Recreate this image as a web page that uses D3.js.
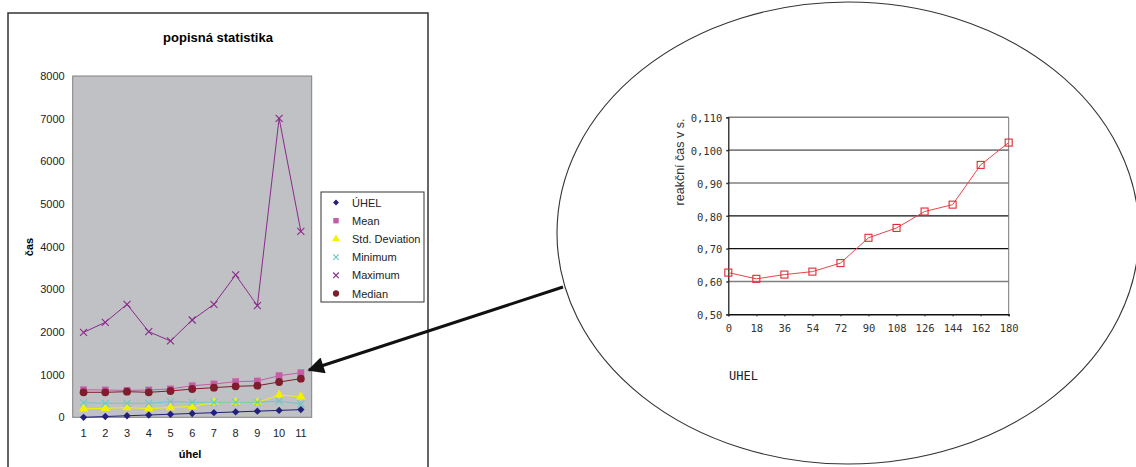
<!DOCTYPE html>
<html><head><meta charset="utf-8">
<script src="https://cdn.jsdelivr.net/npm/d3@7"></script>
<style>body{margin:0;background:#fff}svg{display:block}</style>
</head><body><svg id="c" width="1136" height="467"></svg>
<script>
// ---- left chart data ----
const categories = [1,2,3,4,5,6,7,8,9,10,11];
const uhel    = [0,18,36,54,72,90,108,126,144,162,180];
const mean    = [645,640,630,640,665,740,780,835,850,975,1045];
const stdDev  = [200,210,228,205,230,255,347,351,347,523,480];
const minimum = [343,328,328,328,367,351,351,351,351,382,312];
const maximum = [1990,2227,2649,2007,1789,2281,2649,3336,2616,7009,4360];
const median  = [586,586,601,586,617,663,695,726,741,828,905];
const leftYTicks = [0,1000,2000,3000,4000,5000,6000,7000,8000];
const seriesNames = ["ÚHEL","Mean","Std. Deviation","Minimum","Maximum","Median"];

// ---- right chart data ----
const angles = [0,18,36,54,72,90,108,126,144,162,180];
const reaction = [0.627,0.608,0.621,0.630,0.656,0.733,0.763,0.813,0.834,0.955,1.023];
const rightYTicks = [0.5,0.6,0.7,0.8,0.9,1.0,1.1];
const rightYTickLabels = ["0,50","0,60","0,70","0,80","0,90","0,100","0,110"];

const svg = d3.select("#c");

// ================= LEFT CHART =================
svg.append("rect").attr("x",8).attr("y",13).attr("width",420).attr("height",480)
  .attr("fill","#fff").attr("stroke","#333").attr("stroke-width",1.5);

svg.append("text").attr("x",218).attr("y",42).attr("text-anchor","middle")
  .attr("font-family","Liberation Sans, Arial").attr("font-weight","bold").attr("font-size",13)
  .text("popisná statistika");

const lx = d3.scaleBand().domain(categories).range([72.7,311.7]).padding(0);
const ly = d3.scaleLinear().domain([0,8000]).range([417.3,76]);

svg.append("rect").attr("x",72.7).attr("y",76).attr("width",239).attr("height",417.3-76)
  .attr("fill","#c0c1c5").attr("stroke","#808080").attr("stroke-width",1);

const lyAxis = svg.append("g").attr("transform","translate(72.7,0)")
  .call(d3.axisLeft(ly).tickValues(leftYTicks).tickSize(0).tickPadding(8).tickFormat(d3.format("d")));
lyAxis.select(".domain").remove();
lyAxis.selectAll("text").attr("font-family","Liberation Sans, Arial").attr("font-size",11).attr("fill","#222");

const lxAxis = svg.append("g").attr("transform","translate(0,417.3)")
  .call(d3.axisBottom(lx).tickSize(0).tickPadding(12));
lxAxis.select(".domain").remove();
lxAxis.selectAll("text").attr("font-family","Liberation Sans, Arial").attr("font-size",11).attr("fill","#222");

svg.append("text").attr("x",190).attr("y",458).attr("text-anchor","middle")
  .attr("font-family","Liberation Sans, Arial").attr("font-weight","bold").attr("font-size",11).text("úhel");
svg.append("text").attr("transform","translate(33,247) rotate(-90)").attr("text-anchor","middle")
  .attr("font-family","Liberation Sans, Arial").attr("font-weight","bold").attr("font-size",11).text("čas");

const series = [
  {name:seriesNames[0], vals:uhel,    color:"#23207a", marker:"diamond"},
  {name:seriesNames[1], vals:mean,    color:"#c45ea6", marker:"square"},
  {name:seriesNames[2], vals:stdDev,  color:"#f5f000", marker:"triangle"},
  {name:seriesNames[3], vals:minimum, color:"#6cc8c8", marker:"x"},
  {name:seriesNames[4], vals:maximum, color:"#8a2a8a", marker:"x"},
  {name:seriesNames[5], vals:median,  color:"#7e1e2c", marker:"circle"}
];
function drawMarker(g, type, x, y, color, s){
  if(type==="x"){
    g.append("path").attr("d",`M${x-s},${y-s}L${x+s},${y+s}M${x-s},${y+s}L${x+s},${y-s}`)
      .attr("stroke",color).attr("stroke-width",1.1).attr("fill","none");
  } else if(type==="diamond"){
    const d = s*1.05;
    g.append("path").attr("d",`M${x},${y-d}L${x+d},${y}L${x},${y+d}L${x-d},${y}Z`).attr("fill",color);
  } else {
    const sym = {square:d3.symbolSquare, triangle:d3.symbolTriangle, circle:d3.symbolCircle}[type];
    const size = {square:46, triangle:40, circle:48}[type]*(s/3.5)*(s/3.5);
    g.append("path").attr("d",d3.symbol().type(sym).size(size)()).attr("transform",`translate(${x},${y})`)
      .attr("fill",color);
  }
}
const line = d3.line();
series.forEach(s=>{
  const pts = s.vals.map((v,i)=>[lx(categories[i])+lx.bandwidth()/2, ly(v)]);
  svg.append("path").attr("d",line(pts)).attr("fill","none").attr("stroke",s.color).attr("stroke-width",1);
  const g = svg.append("g");
  pts.forEach(p=>drawMarker(g,s.marker,p[0],p[1],s.color,3.5));
});

// legend
svg.append("rect").attr("x",321).attr("y",192).attr("width",103).attr("height",110)
  .attr("fill","#fff").attr("stroke","#333").attr("stroke-width",1);
series.forEach((s,i)=>{
  const y = 202.5 + i*18.2;
  drawMarker(svg.append("g"), s.marker, 336, y, s.color, 2.8);
  svg.append("text").attr("x",352).attr("y",y+4).attr("font-family","Liberation Sans, Arial")
    .attr("font-size",11).attr("fill","#222").text(s.name);
});

// ================= ELLIPSE + ARROW =================
svg.append("ellipse").attr("cx",848).attr("cy",233).attr("rx",291).attr("ry",231)
  .attr("fill","none").attr("stroke","#333").attr("stroke-width",1.1);

const defs = svg.append("defs");
defs.append("marker").attr("id","ah").attr("viewBox","0 0 10 10").attr("refX",9).attr("refY",5)
  .attr("markerWidth",7).attr("markerHeight",5.5).attr("markerUnits","strokeWidth").attr("orient","auto")
  .append("path").attr("d","M0,0L10,5L0,10Z").attr("fill","#111");
svg.append("line").attr("x1",563).attr("y1",287).attr("x2",309).attr("y2",370)
  .attr("stroke","#111").attr("stroke-width",3).attr("marker-end","url(#ah)");

// ================= RIGHT CHART =================
const rx = d3.scaleLinear().domain([0,180]).range([728.3,1008.7]);
const ry = d3.scaleLinear().domain([0.5,1.1]).range([314.3,117.3]);

rightYTicks.forEach((t,i)=>{
  if(i===0) return;
  const dark = (t===0.7||t===0.8);
  svg.append("line").attr("x1",rx(0)).attr("x2",rx(180)).attr("y1",ry(t)).attr("y2",ry(t))
    .attr("stroke",dark?"#111":"#808080").attr("stroke-width",dark?1.2:1.6);
});
svg.append("line").attr("x1",rx(180)).attr("x2",rx(180)).attr("y1",ry(1.1)).attr("y2",ry(0.5))
  .attr("stroke","#777").attr("stroke-width",1);

const ryAxis = svg.append("g").attr("transform",`translate(${rx(0)},0)`)
  .call(d3.axisLeft(ry).tickValues(rightYTicks).tickSize(2).tickPadding(4)
    .tickFormat((d,i)=>rightYTickLabels[i]));
ryAxis.select(".domain").attr("stroke","#111").attr("stroke-width",1.2);
ryAxis.selectAll("line").attr("stroke","#333").attr("stroke-width",1.5);
ryAxis.selectAll("text").attr("font-family","DejaVu Sans Mono").attr("font-size",10.5).attr("fill","#333").attr("dy","0.4em");

const rxAxis = svg.append("g").attr("transform",`translate(0,${ry(0.5)})`)
  .call(d3.axisBottom(rx).tickValues(angles).tickSize(2).tickPadding(8).tickFormat(d3.format("d")));
rxAxis.select(".domain").attr("stroke","#111").attr("stroke-width",1.5);
rxAxis.selectAll("line").attr("stroke","#333").attr("stroke-width",1.5);
rxAxis.selectAll("text").attr("font-family","DejaVu Sans Mono").attr("font-size",10.5).attr("fill","#333");

svg.append("text").attr("transform","translate(684,162) rotate(-90)").attr("text-anchor","middle")
  .attr("font-family","Liberation Sans, Arial").attr("font-size",12.5).attr("fill","#333").text("reakční čas v s.");
svg.append("text").attr("x",729).attr("y",380).attr("font-family","DejaVu Sans Mono")
  .attr("font-size",12).attr("fill","#222").text("UHEL");

const rpts = reaction.map((v,i)=>[rx(angles[i]), ry(v)]);
svg.append("path").attr("d",line(rpts)).attr("fill","none").attr("stroke","#e8454a").attr("stroke-width",1);
rpts.forEach(p=>{
  svg.append("rect").attr("x",p[0]-3.5).attr("y",p[1]-3.5).attr("width",7).attr("height",7)
    .attr("fill","none").attr("stroke","#e02a30").attr("stroke-width",1.1);
});
</script></body></html>
